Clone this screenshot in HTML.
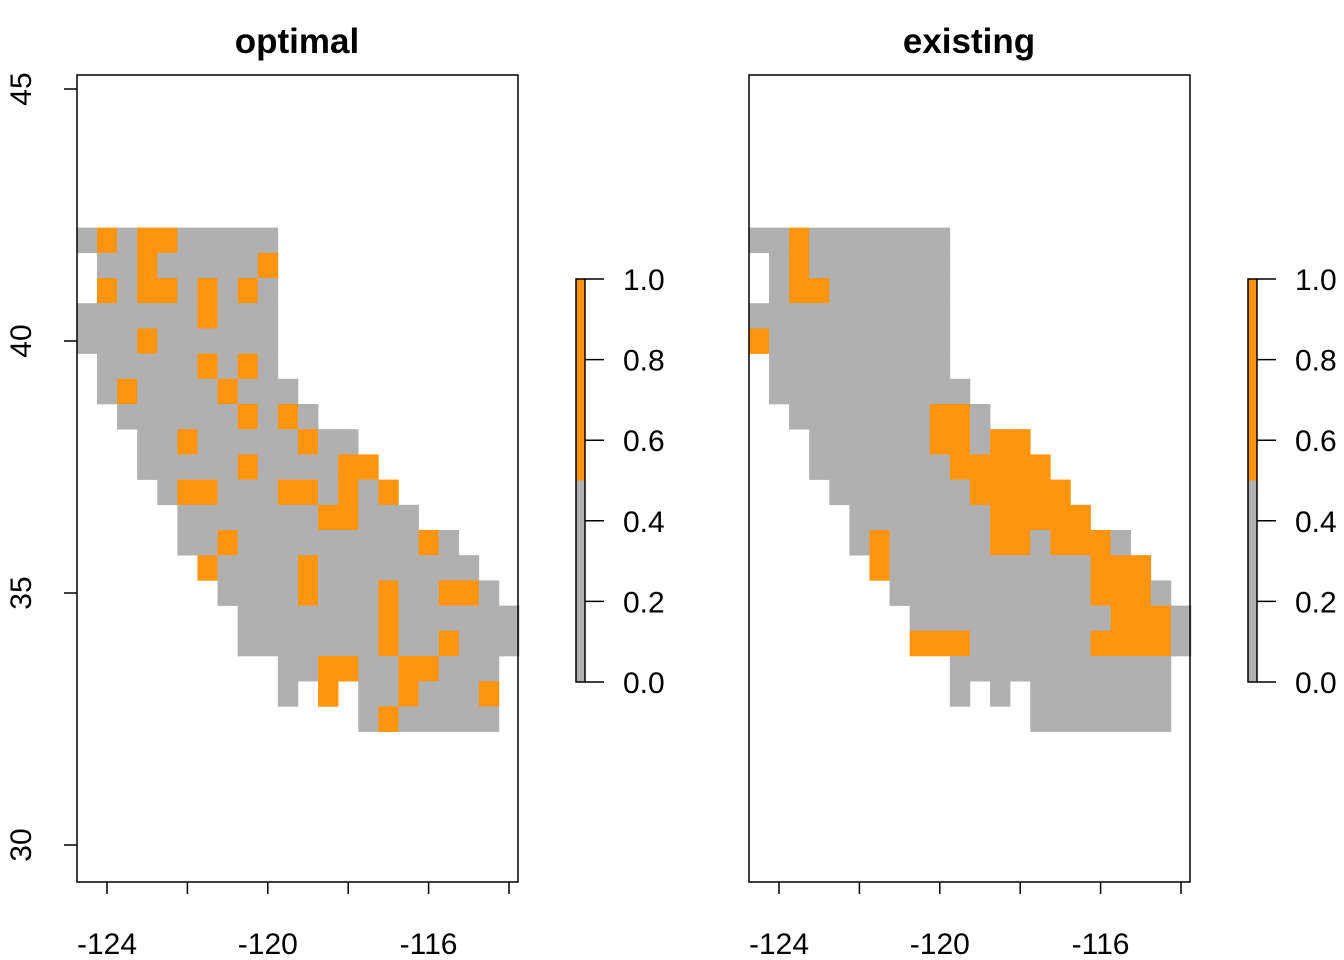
<!DOCTYPE html>
<html><head><meta charset="utf-8"><style>
html,body{margin:0;padding:0;background:#fff}
svg{display:block;font-family:"Liberation Sans",Arial,sans-serif}
</style></head><body>
<svg id="chart" width="1344" height="960" viewBox="0 0 1344 960" xmlns="http://www.w3.org/2000/svg"></svg>
<script>
const panelTitles = ["optimal", "existing"];
const xTickValues = [-124, -122, -120, -118, -116, -114];
const xTickLabels = ["-124", "", "-120", "", "-116", ""];
const yTickValues = [45, 40, 35, 30];
const yTickLabels = ["45", "40", "35", "30"];
const legendTickValues = [0, 0.2, 0.4, 0.6, 0.8, 1.0];
const legendTickLabels = ["0.0", "0.2", "0.4", "0.6", "0.8", "1.0"];
const gridLonStart = -124.75, gridLatTop = 42.25, cellSize = 0.5;
// '.' = NA, 'g' = 0, 'o' = 1
const optimalRows = [
"gogoogggggg".slice(0,10),
".ggogggggo",
".ogoogogog",
"ggggggoggg",
"gggogggggg",
".gggggogog",
".goggggoggg",
"..ggggggogog",
"...ggogggggogg",
"...gggggoggggoo",
"....googggoogogo",
".....gggggggooggg",
".....ggogggggggggog",
"......oggggogggggggg",
".......ggggogggoggoog",
"........gggggggogggggg",
"........gggggggoggoggg",
"..........ggooggooggg",
"..........g.o.ggogggo",
"..............goggggg"
];
const existingRows = [
"ggoggggggg",
".goggggggg",
".googggggg",
"gggggggggg",
"oggggggggg",
".ggggggggg",
".gggggggggg",
"..gggggggoog",
"...ggggggoogoo",
"...gggggggooooo",
"....gggggggooooo",
".....gggggggooooo",
".....gogggggoogooog",
"......oggggggggggooo",
".......ggggggggggooog",
"........ggggggggggooog",
"........oooggggggoooog",
"..........ggggggggggg",
"..........g.g.ggggggg",
"..............ggggggg"
];
const panelData = [optimalRows, existingRows];

const NS = "http://www.w3.org/2000/svg";
const svg = document.getElementById("chart");
function el(tag, attrs, parent) {
  const e = document.createElementNS(NS, tag);
  for (const k in attrs) e.setAttribute(k, attrs[k]);
  (parent || svg).appendChild(e);
  return e;
}
const panelOffsets = [0, 672];
const colors = { g: "#b0b0b0", o: "#ff940e" };

panelData.forEach((rows, p) => {
  const off = panelOffsets[p];
  const xScale = lon => off + 107 + (lon + 124) * 40.2;
  const yScale = lat => 341 - (lat - 40) * 50.4;
  const legY = v => 682 - v * 403;
  const g = el("g", {});
  
  

  rows.forEach((row, r) => {
    for (let c = 0; c < row.length; c++) {
      const ch = row[c];
      if (ch === ".") continue;
      const x0 = xScale(gridLonStart + c * cellSize), x1 = xScale(gridLonStart + (c + 1) * cellSize);
      const y0 = yScale(gridLatTop - r * cellSize), y1 = yScale(gridLatTop - (r + 1) * cellSize);
      const rect = el("rect", { x: x0, y: y0, width: x1 - x0 + 0.3, height: y1 - y0 + 0.3, fill: colors[ch] }, g);
      
      
    }
  });

  const box = el("rect", { x: off + 77, y: 75, width: 441, height: 807, fill: "none", stroke: "#000", "stroke-width": 1.5 }, g);
  
  

  const title = el("text", { x: off + 297, y: 53, "text-anchor": "middle", "font-size": 35, "font-weight": "bold" }, g);
  title.textContent = panelTitles[p];
  
  

  xTickValues.forEach((v, i) => {
    const x = xScale(v);
    el("line", { x1: x, y1: 882, x2: x, y2: 894, stroke: "#000", "stroke-width": 1.5 }, g);
    if (xTickLabels[i]) {
      const t = el("text", { x: x, y: 954, "text-anchor": "middle", "font-size": 30 }, g);
      t.textContent = xTickLabels[i];
      
      
    }
  });

  if (p === 0) {
    yTickValues.forEach((v, i) => {
      const y = yScale(v);
      el("line", { x1: 77, y1: y, x2: 64, y2: y, stroke: "#000", "stroke-width": 1.5 }, g);
      const t = el("text", { x: 31, y: y, "text-anchor": "middle", "font-size": 30, transform: `rotate(-90 31 ${y})` }, g);
      t.textContent = yTickLabels[i];
      
      
    });
  }

  const lx = off + 576;
  const lg = el("g", {}, g);
  
  
  el("rect", { x: lx, y: legY(0.5), width: 9, height: legY(0) - legY(0.5), fill: colors.g }, lg);
  el("rect", { x: lx, y: legY(1), width: 9, height: legY(0.5) - legY(1), fill: colors.o }, lg);
  el("rect", { x: lx, y: legY(1), width: 9, height: legY(0) - legY(1), fill: "none", stroke: "#000", "stroke-width": 1.5 }, lg);
  legendTickValues.forEach((v, i) => {
    const y = legY(v);
    el("line", { x1: lx + 9, y1: y, x2: lx + 28, y2: y, stroke: "#000", "stroke-width": 1.5 }, lg);
    const t = el("text", { x: lx + 47, y: y + 11, "font-size": 30 }, lg);
    t.textContent = legendTickLabels[i];
    
    
  });
});
</script>
</body></html>
